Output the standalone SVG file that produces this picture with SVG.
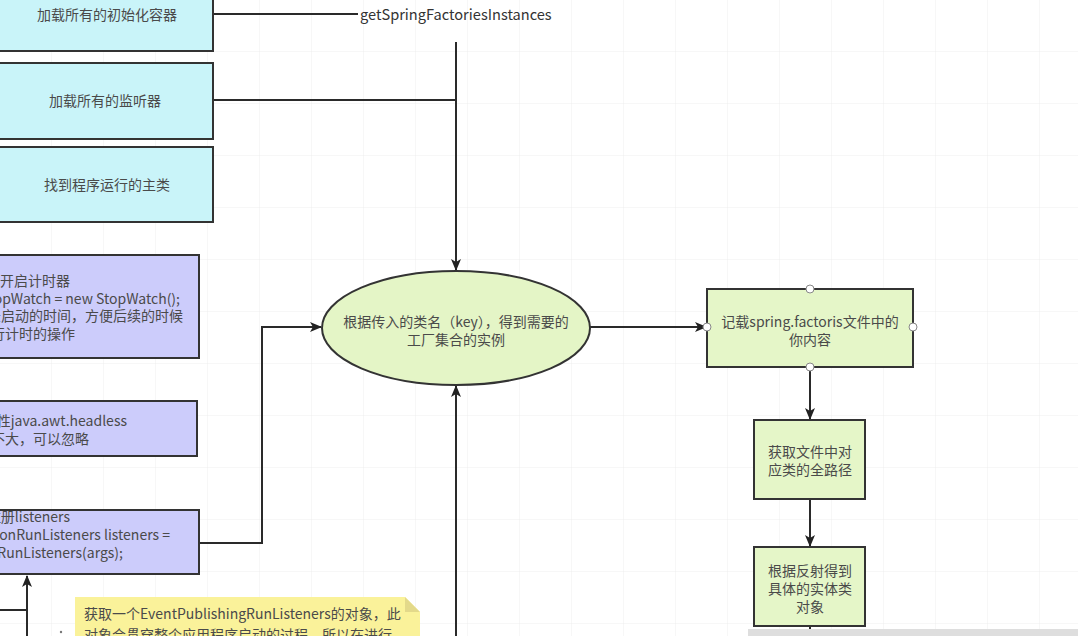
<svg xmlns="http://www.w3.org/2000/svg" width="1078" height="636" viewBox="0 0 1078 636">
  <defs>
    <pattern id="grid" width="52" height="52" patternUnits="userSpaceOnUse">
      <path d="M52 0 V52 M0 52 H52" fill="none" stroke="#eeeeee" stroke-width="1"/>
    </pattern>
    <marker id="arr" viewBox="0 0 12 10" refX="11" refY="5" markerWidth="12" markerHeight="10" markerUnits="userSpaceOnUse" orient="auto">
      <path d="M0 0 L12 5 L0 10 L3 5 Z" fill="#222"/>
    </marker>
  </defs>
  <style>
    .t { font-family: "Noto Sans CJK SC", "Noto Sans", sans-serif; font-size: 14px; fill: #4a4a4a; }
    .c { text-anchor: middle; }
    .e { text-anchor: end; }
    .cyan { fill: #c9f4f9; stroke: #333; stroke-width: 2; }
    .pur { fill: #ccccfb; stroke: #333; stroke-width: 2; }
    .grn { fill: #e5f6c8; stroke: #333; stroke-width: 2; }
    .ln { fill: none; stroke: #2a2a2a; stroke-width: 2; }
    .hd { fill: #fff; stroke: #888; stroke-width: 1; }
  </style>
  <rect width="1078" height="636" fill="#fff"/>
  <rect width="1078" height="636" fill="url(#grid)"/>

  <g id="connectors">
    <path class="ln" d="M213 14 H358"/>
    <path class="ln" d="M213 100 H456"/>
    <path class="ln" d="M456 42 V270" marker-end="url(#arr)"/>
    <path class="ln" d="M456 636 V386" marker-end="url(#arr)"/>
    <path class="ln" d="M199 543 H262 V327 H321" marker-end="url(#arr)"/>
    <path class="ln" d="M590 327 H706" marker-end="url(#arr)"/>
    <path class="ln" d="M810 367 V419" marker-end="url(#arr)"/>
    <path class="ln" d="M810 499 V546" marker-end="url(#arr)"/>
    <path class="ln" d="M810 626 V636"/>
    <path class="ln" d="M27 636 V576" marker-end="url(#arr)"/>
    <path class="ln" d="M0 610 H27"/>
  </g>

  <g id="label-getSpringFactoriesInstances">
    <text class="t" x="360" y="20" style="fill:#333;font-size:14.6px">getSpringFactoriesInstances</text>
  </g>

  <g id="n1">
    <rect class="cyan" x="-10" y="-10" width="223" height="61"/>
    <text class="t c" x="107" y="20">加载所有的初始化容器</text>
  </g>
  <g id="n2">
    <rect class="cyan" x="-10" y="63" width="223" height="76"/>
    <text class="t c" x="105" y="106">加载所有的监听器</text>
  </g>
  <g id="n3">
    <rect class="cyan" x="-10" y="147" width="223" height="75"/>
    <text class="t c" x="107" y="190">找到程序运行的主类</text>
  </g>

  <g id="n4">
    <rect class="pur" x="-10" y="255" width="209" height="103"/>
    <text class="t e" x="70" y="286">开启计时器</text>
    <text class="t e" x="180" y="304">StopWatch stopWatch = new StopWatch();</text>
    <text class="t e" x="183" y="321">记录启动的时间，方便后续的时候</text>
    <text class="t e" x="75" y="339">进行计时的操作</text>
  </g>
  <g id="n5">
    <rect class="pur" x="-10" y="401" width="207" height="55"/>
    <text class="t e" x="127" y="426">设置系统属性java.awt.headless</text>
    <text class="t e" x="89" y="444">作用不大，可以忽略</text>
  </g>
  <g id="n6">
    <rect class="pur" x="-10" y="510" width="209" height="64"/>
    <text class="t e" x="70" y="522">注册listeners</text>
    <text class="t e" x="170" y="540">SpringApplicationRunListeners listeners =</text>
    <text class="t e" x="123" y="558">getRunListeners(args);</text>
  </g>

  <g id="n7">
    <ellipse cx="456" cy="328" rx="134" ry="57" fill="#e4f5c6" stroke="#333" stroke-width="2"/>
    <text class="t c" x="456" y="327">根据传入的类名（key），得到需要的</text>
    <text class="t c" x="456" y="345">工厂集合的实例</text>
  </g>

  <g id="n8">
    <rect class="grn" x="707" y="289" width="206" height="78"/>
    <text class="t c" x="810" y="327">记载spring.factoris文件中的</text>
    <text class="t c" x="810" y="345">你内容</text>
    <circle class="hd" cx="810" cy="289" r="4"/>
    <circle class="hd" cx="707" cy="327" r="4"/>
    <circle class="hd" cx="913" cy="327" r="4"/>
    <circle class="hd" cx="810" cy="367" r="4"/>
  </g>
  <g id="n9">
    <rect class="grn" x="754" y="420" width="111" height="79"/>
    <text class="t c" x="810" y="457">获取文件中对</text>
    <text class="t c" x="810" y="475">应类的全路径</text>
  </g>
  <g id="n10">
    <rect class="grn" x="754" y="547" width="111" height="79"/>
    <text class="t c" x="810" y="576">根据反射得到</text>
    <text class="t c" x="810" y="594">具体的实体类</text>
    <text class="t c" x="810" y="612">对象</text>
  </g>

  <g id="note">
    <path d="M75 597 H405 L420 612 V636 H75 Z" fill="#faf29a"/>
    <path d="M405 597 L420 612 H405 Z" fill="#e3d98a"/>
    <text class="t" x="84" y="619">获取一个EventPublishingRunListeners的对象，此</text>
    <text class="t" x="84" y="640">对象会贯穿整个应用程序启动的过程，所以在进行</text>
  </g>

  <rect x="748" y="629" width="330" height="7" fill="#dedede"/>
  <circle cx="61" cy="632" r="1.2" fill="#777"/>
</svg>
